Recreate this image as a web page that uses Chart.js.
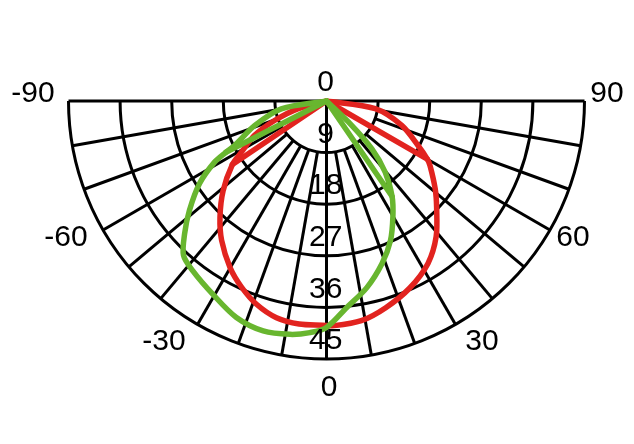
<!DOCTYPE html>
<html>
<head>
<meta charset="utf-8">
<script src="https://cdn.jsdelivr.net/npm/chart.js@4.4.1/dist/chart.umd.min.js"></script>
<style>
html,body{margin:0;padding:0;background:#fff;}
#wrap{width:634px;height:444px;position:relative;}
</style>
</head>
<body>
<div id="wrap"><canvas id="c"></canvas></div>
<script>
// ---- data ----
const ringValues = [9, 18, 27, 36, 45];
const ringLabels = ['0', '9', '18', '27', '36', '45'];
const ringLabelValues = [0, 9, 18, 27, 36, 45];
const spokeAngles = [-90, -80, -70, -60, -50, -40, -30, -20, -10, 0, 10, 20, 30, 40, 50, 60, 70, 80, 90];
const angleLabels = ['-90', '-60', '-30', '0', '30', '60', '90'];

// red curve (outer loop, angle in degrees from nadir, value)
const redAngles = [90, 81, 72, 64, 60, 58, 51, 46, 39, 32, 24, 16, 9, 2, -1, -7, -13, -19, -24.5, -30, -37, -42.5, -49, -56, -59, -64.5, -69.5, -75, -90];
const redValues = [0, 8.6, 13.8, 17.8, 20.3, 21.3, 24.4, 26.7, 30.4, 33.4, 35.7, 37.5, 38.8, 39.2, 39.1, 39.2, 38.8, 37.5, 35.7, 33.6, 30.4, 27.5, 23.9, 19.8, 17.3, 13.9, 9.6, 5.1, 0];
// red straight returns to the centre
const redChordAngles = [-56, 60];
const redChordValues = [19.8, 20.3];

// green curve
const greenAngles = [50, 46, 43.5, 39.5, 34.5, 29.8, 24.6, 18.8, 12.2, 5.6, 0, -4.1, -8.9, -15.4, -22.6, -30.5, -38.2, -42.8, -46.9, -51.4, -57, -61.3, -63, -64.2, -71.2, -80.2, -90];
const greenValues = [0, 6.1, 11.5, 16.1, 20.2, 23.3, 26.8, 30.0, 33.3, 36.2, 39.5, 40.5, 41.2, 41.6, 40.9, 39.1, 37.7, 36.7, 33.9, 30.6, 26.4, 22.3, 19.7, 17.8, 13.2, 8.0, 0];
const greenChordAngles = [-63, 34.5];
const greenChordValues = [19.7, 20.2];

// ---- helpers ----
const RED = '#e2231f';
const GREEN = '#68b62f';
function polar(a, v) {
  const t = a * Math.PI / 180;
  return { x: v * Math.sin(t), y: -v * Math.cos(t) };
}
function loopPoints(angles, values) {
  return angles.map((a, i) => polar(a, values[i]));
}
function chordPoints(angles, values) {
  const pts = [];
  angles.forEach((a, i) => {
    pts.push({ x: 0, y: 0 });
    pts.push(polar(a, values[i]));
    pts.push({ x: null, y: null });
  });
  return pts;
}

// label layout (data units)
const angleLabelPos = {
  '-90': [-51.19, 1.22], '90': [48.92, 1.22],
  '-60': [-45.44, -23.9], '60': [43.0, -23.9],
  '-30': [-28.34, -42.03], '30': [27.12, -42.03],
  '0': [0.44, -50.06]
};

const polarGrid = {
  id: 'polarGrid',
  beforeDatasetsDraw(chart) {
    const { ctx, scales: { x, y } } = chart;
    const cx = x.getPixelForValue(0), cy = y.getPixelForValue(0);
    const outer = ringValues[ringValues.length - 1];
    ctx.save();
    ctx.strokeStyle = '#000';
    ctx.lineWidth = 3;
    ctx.lineCap = 'butt';
    ringValues.forEach(r => {
      const rp = x.getPixelForValue(r) - cx;
      ctx.beginPath();
      ctx.arc(cx, cy, rp, 0, Math.PI, false);
      ctx.stroke();
    });
    spokeAngles.forEach(a => {
      const from = (a === 0 || Math.abs(a) === 90) ? 0 : ringValues[0];
      const p1 = polar(a, from), p2 = polar(a, outer);
      ctx.beginPath();
      ctx.moveTo(x.getPixelForValue(p1.x), y.getPixelForValue(p1.y));
      ctx.lineTo(x.getPixelForValue(p2.x), y.getPixelForValue(p2.y));
      ctx.stroke();
    });
    ctx.restore();
  },
  afterDatasetsDraw(chart) {
    const { ctx, scales: { x, y } } = chart;
    ctx.save();
    ctx.fillStyle = '#000';
    ctx.font = '30px "Liberation Sans", Arial, sans-serif';
    ctx.textAlign = 'center';
    ctx.textBaseline = 'middle';
    ringLabels.forEach((t, i) => {
      const v = ringLabelValues[i];
      ctx.fillText(t, x.getPixelForValue(-0.15), y.getPixelForValue(-v + 3.14));
    });
    angleLabels.forEach(t => {
      const p = angleLabelPos[t];
      ctx.fillText(t, x.getPixelForValue(p[0]), y.getPixelForValue(p[1]));
    });
    ctx.restore();
  }
};

const lineStyle = (color, tension) => ({
  showLine: true, borderColor: color, backgroundColor: color,
  borderWidth: 5.5, pointRadius: 0, pointHoverRadius: 0, tension: tension,
  borderJoinStyle: 'round', borderCapStyle: 'round', spanGaps: false, fill: false
});

new Chart(document.getElementById('c'), {
  type: 'scatter',
  data: {
    datasets: [
      Object.assign({ label: 'green', data: loopPoints(greenAngles, greenValues) }, lineStyle(GREEN, 0.3)),
      Object.assign({ label: 'green chords', data: chordPoints(greenChordAngles, greenChordValues) }, lineStyle(GREEN, 0)),
      Object.assign({ label: 'red', data: loopPoints(redAngles, redValues) }, lineStyle(RED, 0.3)),
      Object.assign({ label: 'red chords', data: chordPoints(redChordAngles, redChordValues) }, lineStyle(RED, 0))
    ]
  },
  options: {
    responsive: true,
    maintainAspectRatio: false,
    animation: false,
    layout: { padding: 0 },
    plugins: { legend: { display: false }, tooltip: { enabled: false } },
    scales: {
      x: { type: 'linear', display: false, min: -56.948, max: 53.634 },
      y: { type: 'linear', display: false, min: -59.826, max: 17.616 }
    }
  },
  plugins: [polarGrid]
});
</script>
</body>
</html>
